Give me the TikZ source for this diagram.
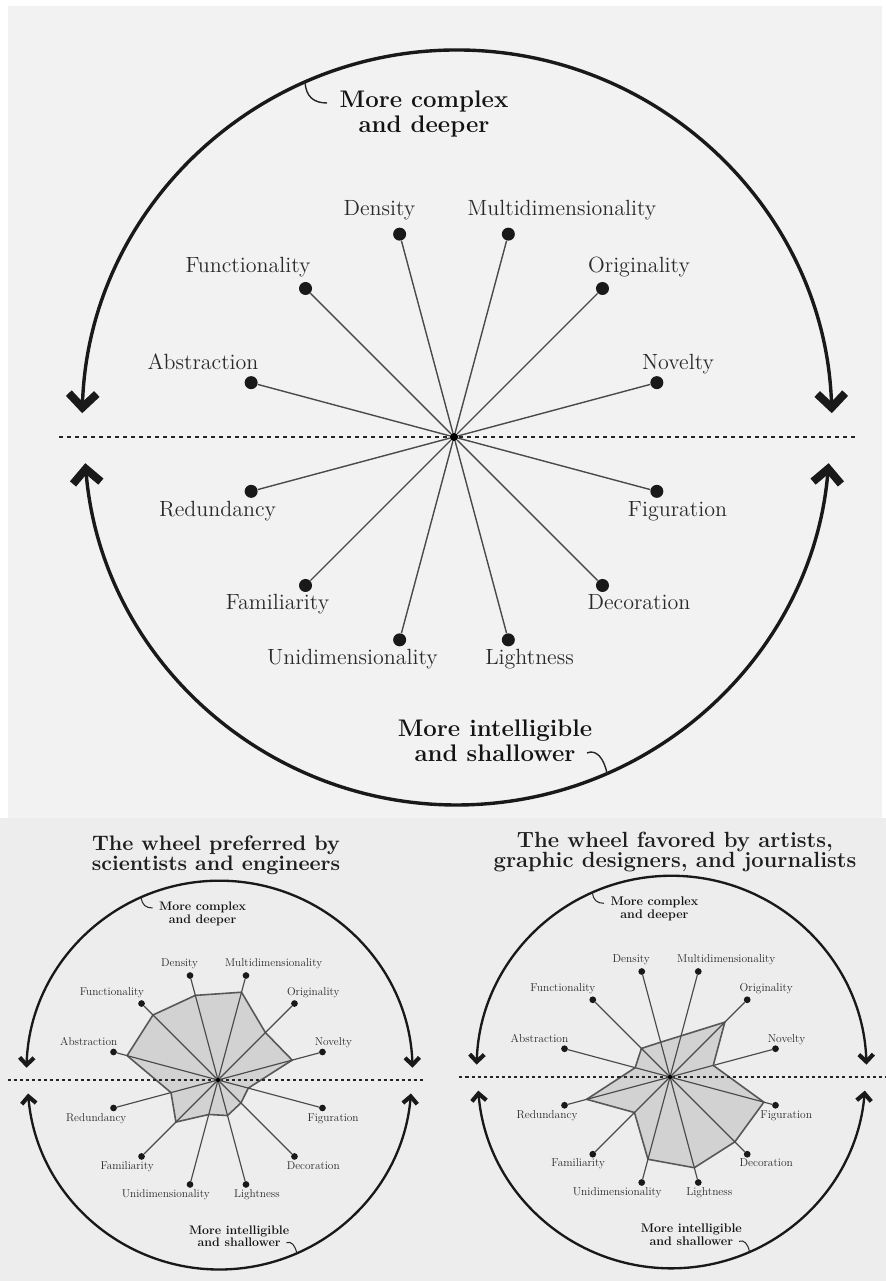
\documentclass[tikz,border=0pt]{standalone}
\usetikzlibrary{arrows.meta}
\definecolor{panel}{HTML}{F2F2F2}
\definecolor{photo}{HTML}{EDEDED}
\definecolor{spokecol}{HTML}{4A4A4A}
\definecolor{labtxt}{HTML}{2A2A2A}
\definecolor{polyfill}{HTML}{D2D2D2}
\definecolor{polyedge}{HTML}{585858}

\tikzset{
  hub/.style={circle,fill=black,inner sep=0pt,minimum size=4pt},
  knob/.style={circle,fill=black!90,inner sep=0pt,minimum size=6.5pt},
  lab/.style={text=labtxt,inner sep=0pt,font=\fontsize{11}{13}\selectfont},
  boldlab/.style={text=black!92,inner sep=0pt,align=center,font=\fontsize{12}{12.5}\selectfont\bfseries},
  spokeline/.style={draw=spokecol},
  arcline/.style={draw=black!90},
  polystyle/.style={fill=polyfill,draw=polyedge,line width=0.8pt,line join=round},
  wtitle/.style={text=black!88,inner sep=0pt,align=center},
}

% polygon of ratings on the 12 spokes
\newcommand{\wheelpoly}[5]{%
  \begin{scope}[shift={(#3,#4)},scale=#2]
    \foreach \f [count=\i] in {#5} {
      \coordinate (#1-v\i) at ({15+30*(\i-1)}:{210*\f});
    }
    \draw[polystyle] (#1-v1) \foreach \j in {2,...,12}{ -- (#1-v\j)} -- cycle;
  \end{scope}}

% the wheel itself
\newcommand{\wheelpic}[6]{%
  \pgfmathsetlengthmacro{\arclw}{0.6pt+1.1pt*#2}%
  \pgfmathsetlengthmacro{\spklw}{0.45pt+0.25pt*#2}%
  \pgfmathsetlengthmacro{\dotlw}{0.5pt+0.5pt*#2}%
  \pgfmathsetlengthmacro{\dashl}{1pt+1pt*#2}%
  \pgfmathsetlengthmacro{\ticklw}{0.3pt+0.4pt*#2}%
  \pgfmathsetlengthmacro{\tipl}{7pt*#2}%
  \pgfmathsetlengthmacro{\tipw}{14pt*#2}%
  \pgfmathsetlengthmacro{\tiplw}{4pt*#2}%
  \begin{scope}[shift={(#3,#4)},scale=#2,transform shape]
    \node[hub] (#1-c) at (0,0) {};
    \coordinate (#1-dl) at (#5,0);
    \coordinate (#1-dr) at (#6,0);
    \draw[black!85,line width=\dotlw,dash pattern=on \dashl off \dashl] (#1-dl) -- (#1-dr);
    \foreach \k/\txt/\lx/\ly in {
      1/Novelty/224/67,
      2/Originality/185/164,
      3/Multidimensionality/108/221,
      4/Density/-74.5/221,
      5/Functionality/-206/164,
      6/Abstraction/-251/67,
      7/Redundancy/-236.5/-80,
      8/Familiarity/-176.5/-173,
      9/Unidimensionality/-101.5/-228,
      10/Lightness/75.5/-228,
      11/Decoration/185/-173,
      12/Figuration/223.5/-80} {
      \node[knob] (#1-d\k) at ({15+30*(\k-1)}:210) {};
      \draw[spokeline,line width=\spklw] (#1-c) -- (#1-d\k);
      \node[lab,anchor=base] (#1-t\k) at (\lx,\ly) {\txt};
    }
    \node[hub] at (#1-c) {};
    % arcs with arrows
    \coordinate (#1-al) at (-371.8,23.8);
    \coordinate (#1-bl) at (-368.7,-26.2);
    \draw[arcline,line width=\arclw,
      {Straight Barb[sharp,length=\tipl,width=\tipw,line width=\tiplw]}-{Straight Barb[sharp,length=\tipl,width=\tipw,line width=\tiplw]}]
      (#1-al) arc[start angle=178.2,end angle=1.8,radius=375];
    \draw[arcline,line width=\arclw,
      {Straight Barb[sharp,length=\tipl,width=\tipw,line width=\tiplw]}-{Straight Barb[sharp,length=\tipl,width=\tipw,line width=\tiplw]}]
      (#1-bl) arc[start angle=184.8,end angle=355.2,radius=373];
    % captions and their ticks
    \node[boldlab] (#1-up) at (-30,322.5) {More complex\\and deeper};
    \node[boldlab] (#1-dn) at (41,-303.5) {More intelligible\\and shallower};
    \coordinate (#1-ua) at (-149,354.8);
    \coordinate (#1-ub) at (-127,334);
    \draw[black!85,line width=\ticklw] (#1-ua) .. controls (-148,340) and (-140,334) .. (#1-ub);
    \coordinate (#1-da) at (133,-316);
    \coordinate (#1-db) at (153,-336.5);
    \draw[black!85,line width=\ticklw] (#1-da) .. controls (142,-312) and (150,-321) .. (#1-db);
  \end{scope}}

\begin{document}
\begin{tikzpicture}[x=0.5pt,y=0.5pt]
\useasboundingbox (0,0) rectangle (886,1281);
\fill[white] (0,0) rectangle (886,1281);
\fill[panel] (8,463) rectangle (882,1275);
\fill[photo] (0,0) rectangle (886,463);

% large wheel
\wheelpic{T}{1}{454}{844}{-395}{402}

% wheel preferred by scientists and engineers
\wheelpoly{L}{0.515}{218}{201}{0.71,0.62,0.84,0.81,0.85,0.87,0.45,0.55,0.33,0.34,0.30,0.29}
\wheelpic{L}{0.515}{218}{201}{-408}{398}
\node[wtitle,font=\fontsize{10.5}{10}\selectfont\bfseries] (Ltitle) at (216,426)
  {The wheel preferred by\\scientists and engineers};

% wheel favored by artists
\wheelpoly{R}{0.52}{670}{204}{0.41,0.71,0.39,0.33,0.37,0.33,0.79,0.46,0.78,0.86,0.84,0.89}
\wheelpic{R}{0.52}{670}{204}{-405}{416}
\node[wtitle,font=\fontsize{11}{10}\selectfont\bfseries] (Rtitle) at (675,429)
  {The wheel favored by artists,\\graphic designers, and journalists};
\end{tikzpicture}
\end{document}
